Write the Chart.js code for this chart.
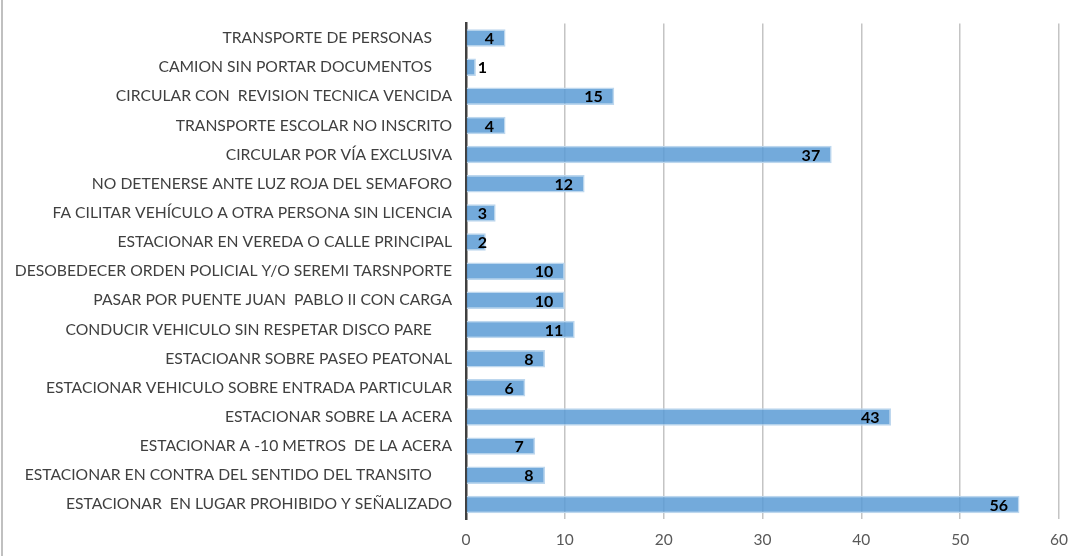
<!DOCTYPE html>
<html>
<head>
<meta charset="utf-8">
<script src="https://cdn.jsdelivr.net/npm/chart.js@4/dist/chart.umd.min.js"></script>
<style>
  html, body { margin: 0; padding: 0; background: #fff; }
  #wrap { width: 1081px; height: 556px; position: relative; }
</style>
</head>
<body>
<div id="wrap"><canvas id="chart" width="1081" height="556"></canvas></div>
<script>
"use strict";

// カテゴリ（上から順）
const categories = [
    "TRANSPORTE DE PERSONAS     ",
    "CAMION SIN PORTAR DOCUMENTOS     ",
    "CIRCULAR CON  REVISION TECNICA VENCIDA",
    "TRANSPORTE ESCOLAR NO INSCRITO",
    "CIRCULAR POR VÍA EXCLUSIVA",
    "NO DETENERSE ANTE LUZ ROJA DEL SEMAFORO",
    "FA CILITAR VEHÍCULO A OTRA PERSONA SIN LICENCIA",
    "ESTACIONAR EN VEREDA O CALLE PRINCIPAL",
    "DESOBEDECER ORDEN POLICIAL Y/O SEREMI TARSNPORTE",
    "PASAR POR PUENTE JUAN  PABLO II CON CARGA",
    "CONDUCIR VEHICULO SIN RESPETAR DISCO PARE     ",
    "ESTACIOANR SOBRE PASEO PEATONAL",
    "ESTACIONAR VEHICULO SOBRE ENTRADA PARTICULAR",
    "ESTACIONAR SOBRE LA ACERA",
    "ESTACIONAR A -10 METROS  DE LA ACERA",
    "ESTACIONAR EN CONTRA DEL SENTIDO DEL TRANSITO     ",
    "ESTACIONAR  EN LUGAR PROHIBIDO Y SEÑALIZADO"
];

// 件数
const counts = [4, 1, 15, 4, 37, 12, 3, 2, 10, 10, 11, 8, 6, 43, 7, 8, 56];

// x軸の目盛
const xTicks = [0, 10, 20, 30, 40, 50, 60];

const FONT = "Lato, 'Open Sans', sans-serif";

// 値ラベルを描画するプラグイン
const valueLabels = {
    id: "valueLabels",
    afterDatasetsDraw(chart) {
        const ctx = chart.ctx;
        const meta = chart.getDatasetMeta(0);
        ctx.save();
        ctx.font = "bold 16px " + FONT;
        ctx.fillStyle = "#000";
        ctx.textBaseline = "middle";
        ctx.textAlign = "right";
        meta.data.forEach((bar, i) => {
            const text = String(counts[i]);
            const w = ctx.measureText(text).width;
            // 短いバーは軸から少し離した位置に置く
            const right = Math.max(bar.x - 11.5, bar.base + 11 + w);
            ctx.fillText(text, right, bar.y + 1);
        });
        ctx.restore();
    }
};

// 外枠（左端の線）
const frame = {
    id: "frame",
    beforeDraw(chart) {
        const ctx = chart.ctx;
        ctx.save();
        ctx.strokeStyle = "#c0c0c0";
        ctx.lineWidth = 2;
        ctx.beginPath();
        ctx.moveTo(2, 0);
        ctx.lineTo(2, chart.height);
        ctx.stroke();
        ctx.restore();
    }
};

const ctx = document.getElementById("chart");
new Chart(ctx, {
    type: "bar",
    data: {
        labels: categories,
        datasets: [{
            data: counts,
            backgroundColor: "rgba(91,155,213,0.85)",
            borderColor: "rgba(189,215,238,1)",
            borderWidth: 1.5,
            categoryPercentage: 1,
            barPercentage: 0.6
        }]
    },
    options: {
        indexAxis: "y",
        responsive: false,
        animation: false,
        layout: { padding: { left: 0, top: 13, right: 22, bottom: 0 } },
        plugins: {
            legend: { display: false },
            tooltip: { enabled: false }
        },
        scales: {
            x: {
                min: xTicks[0],
                max: xTicks[xTicks.length - 1],
                afterBuildTicks: s => { s.ticks = xTicks.map(v => ({ value: v })); },
                afterFit: s => { s.height = 37; },
                ticks: { color: "#595959", font: { family: FONT, size: 15.5 }, padding: 12 },
                grid: { color: "#c4c4c4", lineWidth: 1.5, drawTicks: false },
                border: { display: false }
            },
            y: {
                afterFit: s => { s.width = 466; },
                ticks: { color: "#404040", font: { family: FONT, size: 15.7 }, padding: 14, autoSkip: false },
                grid: { display: false, drawTicks: false },
                border: { color: "#404040", width: 2.5 }
            }
        }
    },
    plugins: [frame, valueLabels]
});
</script>
</body>
</html>
